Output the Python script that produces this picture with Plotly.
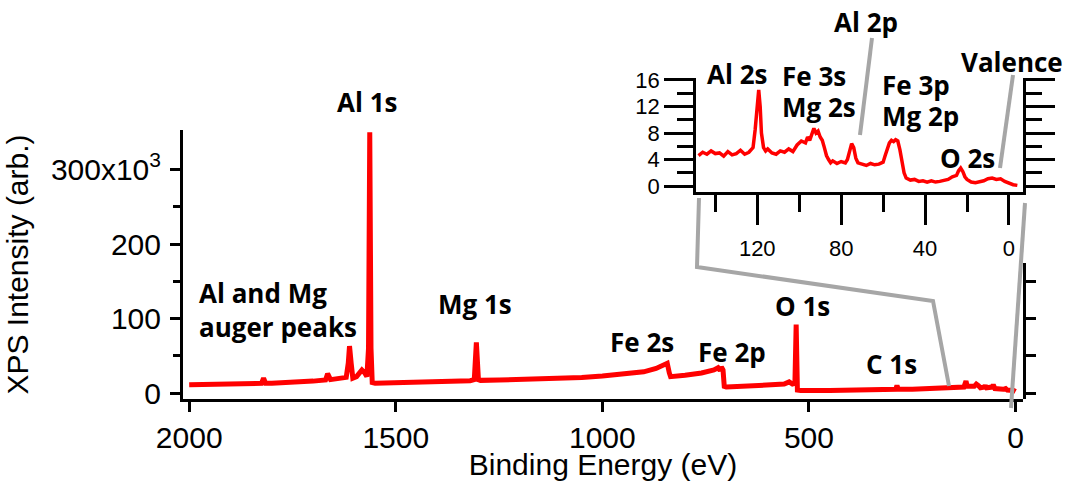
import plotly.graph_objects as go

# ---- survey spectrum (binding energy in eV, intensity in thousands of counts) ----
survey_ev = [2000, 1950, 1900, 1850, 1825, 1820, 1815, 1800, 1750, 1700, 1670, 1665,
             1658, 1640, 1620, 1615, 1612, 1608, 1604, 1595, 1588, 1582, 1575, 1570,
             1566, 1563, 1560, 1557, 1550, 1500, 1450, 1400, 1350, 1320, 1310, 1305,
             1300, 1295, 1250, 1200, 1150, 1100, 1050, 1000, 950, 900, 870, 850, 843,
             838, 835, 800, 760, 730, 720, 715, 712, 708, 705, 700, 650, 600, 560, 548,
             540, 534, 531, 528, 520, 450, 400, 300, 290, 287, 284, 250, 200, 170, 150,
             125, 120, 117, 100, 95, 90, 85, 75, 73, 70, 57, 54, 50, 30, 24, 20, 10, 5, 0]
survey_counts = [11, 11.5, 12, 12.5, 13, 20, 13, 13, 14, 16, 17.5, 26,
                 18, 19, 21, 40, 63, 40, 20, 22, 28, 31, 27, 22,
                 60, 350, 60, 14, 13, 13.5, 14, 15, 15.5, 16.5, 18, 68,
                 18, 17, 17.5, 18, 19, 20, 21, 23, 25, 28.5, 33, 38, 40,
                 27, 22, 24, 27, 31, 34, 30, 35, 31, 9, 8, 9, 10.5, 12, 15,
                 12, 13, 92, 4, 3.5, 3.5, 3.5, 4.5, 5, 10, 5, 5, 6, 6.5, 7,
                 8, 16, 9, 9, 12, 10, 7, 8, 10, 7, 8, 11, 6, 5, 6, 4, 4.5, 3.5, 2]

# ---- low binding energy region (inset) ----
detail_ev = [148, 146, 144, 142, 140, 138, 136, 134, 132, 130, 128, 126, 124, 122, 121,
             120, 119.3, 118.6, 118, 117, 116, 115, 113, 111, 109, 107, 105, 103, 101,
             99, 97, 96, 95, 94, 93, 92, 91, 90, 89, 88, 87, 86, 85, 84, 82, 80, 78, 77,
             76, 75, 74, 73, 72, 70, 68, 66, 64, 62, 60, 59, 58, 57, 56, 55, 54, 53, 52,
             51, 50, 49, 47, 45, 43, 41, 39, 37, 35, 33, 31, 29, 27, 25, 24, 23, 22, 21,
             20, 18, 16, 14, 12, 10, 8, 6, 4, 2, 0, -2, -4]
detail_counts = [4.6, 5.1, 4.8, 5.3, 4.9, 5.0, 4.5, 5.2, 4.7, 4.9, 5.4, 4.8, 5.1, 5.8, 8.5,
                 13.0, 14.5, 12.0, 8.0, 5.8, 5.3, 5.6, 5.0, 4.8, 5.3, 5.1, 5.6, 5.2, 6.2,
                 6.8, 6.5, 7.4, 6.9, 7.8, 8.7, 8.0, 8.3, 7.4, 6.9, 5.8, 4.6, 4.0, 3.5, 3.8,
                 3.4, 3.7, 3.5, 4.0, 5.5, 6.4, 5.8, 4.2, 3.5, 3.3, 3.1, 3.4, 3.2, 3.3, 3.6,
                 4.6, 5.8, 6.5, 6.9, 6.7, 7.0, 6.8, 5.5, 3.4, 2.0, 1.2, 0.9, 1.0, 0.7, 0.8,
                 0.6, 0.8, 0.6, 0.7, 0.9, 1.0, 1.4, 1.6, 2.3, 2.7, 2.2, 1.4, 1.0, 0.6, 0.5,
                 0.6, 0.8, 1.1, 1.2, 1.0, 1.1, 0.7, 0.4, 0.2, 0.1]

survey_ticks = [2000, 1500, 1000, 500, 0]
intensity_ticks = [0, 100, 200, 300]
intensity_ticktext = ["0", "100", "200", "300x10<sup>3</sup>"]
detail_xticks = [120, 80, 40, 0]
detail_yticks = [0, 4, 8, 12, 16]

# ---- page geometry (pixel positions are converted to paper fractions) ----
W, H = 1065, 481
ML, MR, MT, MB = 183, 42, 0, 82
PW, PH = W - ML - MR, H - MT - MB


def fx(x):
    return (x - ML) / PW


def fy(y):
    return (H - MB - y) / PH


Y_RANGE = [-8, 353]
main_top = fy(130)
k_per_px = (Y_RANGE[1] - Y_RANGE[0]) / (main_top * PH)
right_top = fy(263)

AXIS_FONT = dict(family="Liberation Sans, Arial, sans-serif", size=30, color="black")
INSET_FONT = dict(family="Liberation Sans, Arial, sans-serif", size=22, color="black")
LABEL_FONT = dict(family="Open Sans, sans-serif", size=26, color="black", weight="bold")
RED = "#ff0000"
GREY = "#a6a6a6"

fig = go.Figure()
fig.add_trace(go.Scatter(x=survey_ev, y=survey_counts, mode="lines",
                         line=dict(color=RED, width=5), xaxis="x", yaxis="y",
                         showlegend=False, hoverinfo="skip"))
fig.add_trace(go.Scatter(x=detail_ev, y=detail_counts, mode="lines",
                         line=dict(color=RED, width=3.5), xaxis="x2", yaxis="y2",
                         showlegend=False, hoverinfo="skip"))
# empty trace so the short right-hand intensity axis is drawn
fig.add_trace(go.Scatter(x=[None], y=[None], xaxis="x", yaxis="y3", showlegend=False,
                         hoverinfo="skip"))

labels = [
    ("Al 1s", 367, 102, "center"),
    ("Mg 1s", 475, 304, "center"),
    ("Fe 2s", 642, 342, "center"),
    ("Fe 2p", 732, 352, "center"),
    ("O 1s", 802, 306, "center"),
    ("C 1s", 891, 364, "center"),
    ("Al 2s", 737, 74, "center"),
    ("Fe 3s", 780, 76, "left"),
    ("Mg 2s", 780, 107, "left"),
    ("Al 2p", 866, 22, "center"),
    ("Fe 3p", 880, 85, "left"),
    ("Mg 2p", 880, 116, "left"),
    ("O 2s", 967, 158, "center"),
    ("Valence", 1012, 62, "center"),
]
annotations = [dict(text=t, x=fx(x), y=fy(y), xref="paper", yref="paper",
                    xanchor=a, yanchor="middle", showarrow=False, font=LABEL_FONT)
               for t, x, y, a in labels]
annotations.append(dict(text="Al and Mg<br>auger peaks", x=fx(197), y=fy(310),
                        xref="paper", yref="paper", xanchor="left", yanchor="middle",
                        align="left", showarrow=False, font=LABEL_FONT))


def seg(points):
    return "M " + " L ".join(f"{fx(x):.5f},{fy(y):.5f}" for x, y in points)


grey_line = dict(color=GREY, width=4)
shapes = [
    dict(type="path", xref="paper", yref="paper", line=grey_line,
         path=seg([(699, 198), (697, 267), (933, 301), (949, 386)])),
    dict(type="path", xref="paper", yref="paper", line=grey_line,
         path=seg([(1025, 203), (1011, 408)])),
    dict(type="path", xref="paper", yref="paper", line=grey_line,
         path=seg([(872, 38), (860, 135)])),
    dict(type="path", xref="paper", yref="paper", line=grey_line,
         path=seg([(1013, 75), (1000, 168)])),
]

fig.update_layout(
    width=W, height=H,
    margin=dict(l=ML, r=MR, t=MT, b=MB, autoexpand=False),
    paper_bgcolor="white", plot_bgcolor="rgba(0,0,0,0)",
    showlegend=False,
    xaxis=dict(domain=[0, 1], anchor="y", range=[2015, -18], automargin=False,
               tickvals=survey_ticks, ticks="outside", ticklen=10, tickwidth=3,
               tickcolor="black", showline=True, linecolor="black", linewidth=3,
               showgrid=False, zeroline=False, tickfont=AXIS_FONT,
               title=dict(text="Binding Energy (eV)", font=AXIS_FONT, standoff=4)),
    yaxis=dict(domain=[0, main_top], anchor="x", range=Y_RANGE, automargin=False,
               tickvals=intensity_ticks, ticktext=intensity_ticktext,
               ticks="outside", ticklen=10, tickwidth=3, tickcolor="black",
               minor=dict(tickvals=[50, 150, 250], ticks="outside", ticklen=7,
                          tickwidth=3, tickcolor="black"),
               showline=True, linecolor="black", linewidth=3,
               showgrid=False, zeroline=False, tickfont=AXIS_FONT, ticklabelstandoff=3,
               title=dict(text="XPS Intensity (arb.)", font=AXIS_FONT, standoff=14)),
    yaxis3=dict(domain=[0, right_top], anchor="x", side="right", automargin=False,
                range=[Y_RANGE[0], Y_RANGE[0] + right_top * PH * k_per_px],
                tickvals=[0, 50, 100, 150], ticks="outside", ticklen=10, tickwidth=3,
                tickcolor="black", showticklabels=False,
                showline=True, linecolor="black", linewidth=3,
                showgrid=False, zeroline=False),
    xaxis2=dict(domain=[fx(696), fx(1023)], anchor="y2", range=[149.2, -6.7],
                automargin=False,
                tickvals=detail_xticks, ticks="outside", ticklen=30, tickwidth=2.5,
                tickcolor="black",
                minor=dict(tickvals=[140, 100, 60, 20], ticks="outside", ticklen=17,
                           tickwidth=2.5, tickcolor="black"),
                showline=True, linecolor="black", linewidth=2.5,
                showgrid=False, zeroline=False, tickfont=INSET_FONT,
                ticklabelstandoff=5),
    yaxis2=dict(domain=[fy(192), fy(78)], anchor="x2", range=[-0.9, 16.3],
                automargin=False,
                tickvals=detail_yticks, ticks="outside", ticklen=29, tickwidth=2.5,
                tickcolor="black",
                minor=dict(tickvals=[2, 6, 10, 14], ticks="outside", ticklen=16,
                           tickwidth=2.5, tickcolor="black"),
                showline=True, mirror="ticks", linecolor="black", linewidth=2.5,
                showgrid=False, zeroline=False, tickfont=INSET_FONT),
    annotations=annotations,
    shapes=shapes,
)

fig.write_html("out.html")
